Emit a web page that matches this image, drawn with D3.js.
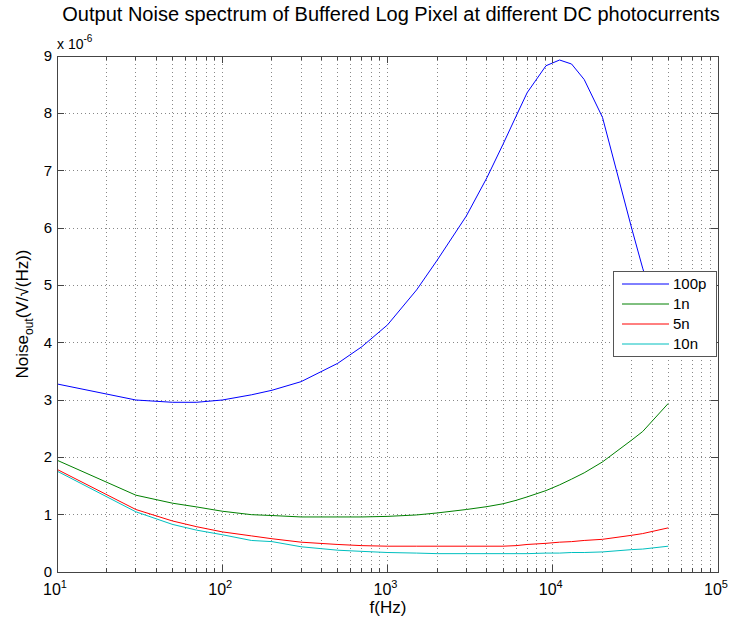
<!DOCTYPE html>
<html><head><meta charset="utf-8">
<script src="https://cdn.jsdelivr.net/npm/d3@7"></script>
<style>body{margin:0;background:#fff;} text{font-family:Arial,"Liberation Sans",sans-serif;}</style>
</head><body>
<svg id="c" width="731" height="624"></svg>
<script>
const freqs = [10, 30, 50, 70, 100, 150, 200, 300, 500, 700, 1000, 1500, 2000, 3000, 4000, 5000, 6000, 7000, 9100, 11000, 13000, 15500, 20000, 30000, 35000, 50000];
const noise100p = [3.28, 3.0, 2.96, 2.96, 3.0, 3.09, 3.17, 3.32, 3.64, 3.93, 4.31, 4.92, 5.44, 6.21, 6.88, 7.46, 7.95, 8.36, 8.83, 8.93, 8.86, 8.59, 7.93, 6.0, 5.3, 3.9];
const noise1n =   [1.95, 1.34, 1.20, 1.135, 1.06, 1.0, 0.985, 0.96, 0.96, 0.96, 0.97, 0.995, 1.03, 1.09, 1.14, 1.19, 1.25, 1.31, 1.42, 1.52, 1.62, 1.73, 1.92, 2.30, 2.45, 2.94];
const noise5n =   [1.79, 1.09, 0.89, 0.79, 0.70, 0.63, 0.58, 0.52, 0.48, 0.46, 0.45, 0.45, 0.45, 0.45, 0.45, 0.45, 0.46, 0.48, 0.50, 0.52, 0.53, 0.55, 0.57, 0.64, 0.67, 0.77];
const noise10n =  [1.76, 1.05, 0.83, 0.73, 0.65, 0.55, 0.53, 0.44, 0.38, 0.36, 0.34, 0.33, 0.32, 0.32, 0.32, 0.32, 0.32, 0.32, 0.33, 0.33, 0.34, 0.34, 0.35, 0.39, 0.40, 0.45];
const seriesNames = ["100p", "1n", "5n", "10n"];
const seriesColors = ["#0000ff", "#008000", "#ff0000", "#00bfbf"];
const yTicks = [0,1,2,3,4,5,6,7,8,9];
const xDecades = [10, 100, 1000, 10000, 100000];
const xExps = ["1","2","3","4","5"];

const series = [noise100p, noise1n, noise5n, noise10n];
const svg = d3.select("#c");
const L = 57, R = 718, T = 56, B = 572;
const x = d3.scaleLog().domain([10, 1e5]).range([L, R]);
const y = d3.scaleLinear().domain([0, 9]).range([B, T]);

const minor = [];
for (let d = 10; d < 1e5; d *= 10) for (let k = 1; k < 10; k++) minor.push(d * k);
minor.push(1e5);

const grid = svg.append("g");
minor.filter(v => v > 10 && v < 1e5).forEach(v => {
  grid.append("line").attr("x1", x(v)).attr("x2", x(v)).attr("y1", T).attr("y2", B)
    .attr("stroke", "#888").attr("stroke-width", 1).attr("stroke-dasharray", "1,3").attr("shape-rendering","crispEdges");
});
yTicks.filter(v => v > 0 && v < 9).forEach(v => {
  grid.append("line").attr("x1", L).attr("x2", R).attr("y1", y(v)).attr("y2", y(v))
    .attr("stroke", "#888").attr("stroke-width", 1).attr("stroke-dasharray", "1,3").attr("shape-rendering","crispEdges");
});

const line = d3.line().x((d, i) => x(freqs[i])).y(d => y(d));
series.forEach((s, i) => {
  svg.append("path").datum(s).attr("d", line).attr("fill", "none")
    .attr("stroke", seriesColors[i]).attr("stroke-width", 1);
});

const ax = svg.append("g").attr("stroke", "#444").attr("shape-rendering","crispEdges");
ax.append("rect").attr("x", L).attr("y", T).attr("width", R - L).attr("height", B - T).attr("fill", "none");
minor.forEach(v => {
  const major = xDecades.includes(v);
  const len = major ? 7 : 4;
  ax.append("line").attr("x1", x(v)).attr("x2", x(v)).attr("y1", B).attr("y2", B - len);
  ax.append("line").attr("x1", x(v)).attr("x2", x(v)).attr("y1", T).attr("y2", T + len);
});
yTicks.forEach(v => {
  ax.append("line").attr("x1", L).attr("x2", L + 7).attr("y1", y(v)).attr("y2", y(v));
  ax.append("line").attr("x1", R).attr("x2", R - 7).attr("y1", y(v)).attr("y2", y(v));
});

yTicks.forEach(v => {
  svg.append("text").attr("x", L - 5).attr("y", y(v) + 5).attr("text-anchor", "end")
    .attr("font-size", 15).text(v);
});
xDecades.forEach((v, i) => {
  const t = svg.append("text").attr("x", x(v) - 2).attr("y", 595).attr("text-anchor", "middle").attr("font-size", 16);
  t.append("tspan").text("10");
  t.append("tspan").attr("dy", -7).attr("font-size", 11).text(xExps[i]);
});
const ex = svg.append("text").attr("x", 57).attr("y", 49).attr("font-size", 14);
ex.append("tspan").text("x 10");
ex.append("tspan").attr("dy", -7).attr("font-size", 10).text("-6");

svg.append("text").attr("x", 391).attr("y", 21).attr("text-anchor", "middle").attr("font-size", 20)
  .text("Output Noise spectrum of Buffered Log Pixel at different DC photocurrents");
svg.append("text").attr("x", 388).attr("y", 613).attr("text-anchor", "middle").attr("font-size", 17).text("f(Hz)");
const yl = svg.append("text").attr("transform", "translate(28," + ((T + B) / 2) + ") rotate(-90)")
  .attr("text-anchor", "middle").attr("font-size", 17);
yl.append("tspan").text("Noise");
yl.append("tspan").attr("dy", 5).attr("font-size", 12).text("out");
yl.append("tspan").attr("dy", -5).text("(V/\u221A(Hz))");

const lg = svg.append("g");
lg.append("rect").attr("x", 613.5).attr("y", 271.5).attr("width", 103).attr("height", 85)
  .attr("fill", "#fff").attr("stroke", "#555").attr("shape-rendering","crispEdges");
seriesNames.forEach((n, i) => {
  const yy = 284 + i * 20;
  lg.append("line").attr("x1", 622).attr("x2", 669).attr("y1", yy).attr("y2", yy)
    .attr("stroke", seriesColors[i]).attr("stroke-width", 1);
  lg.append("text").attr("x", 673).attr("y", yy + 5).attr("font-size", 15).text(n);
});
</script>
</body></html>
